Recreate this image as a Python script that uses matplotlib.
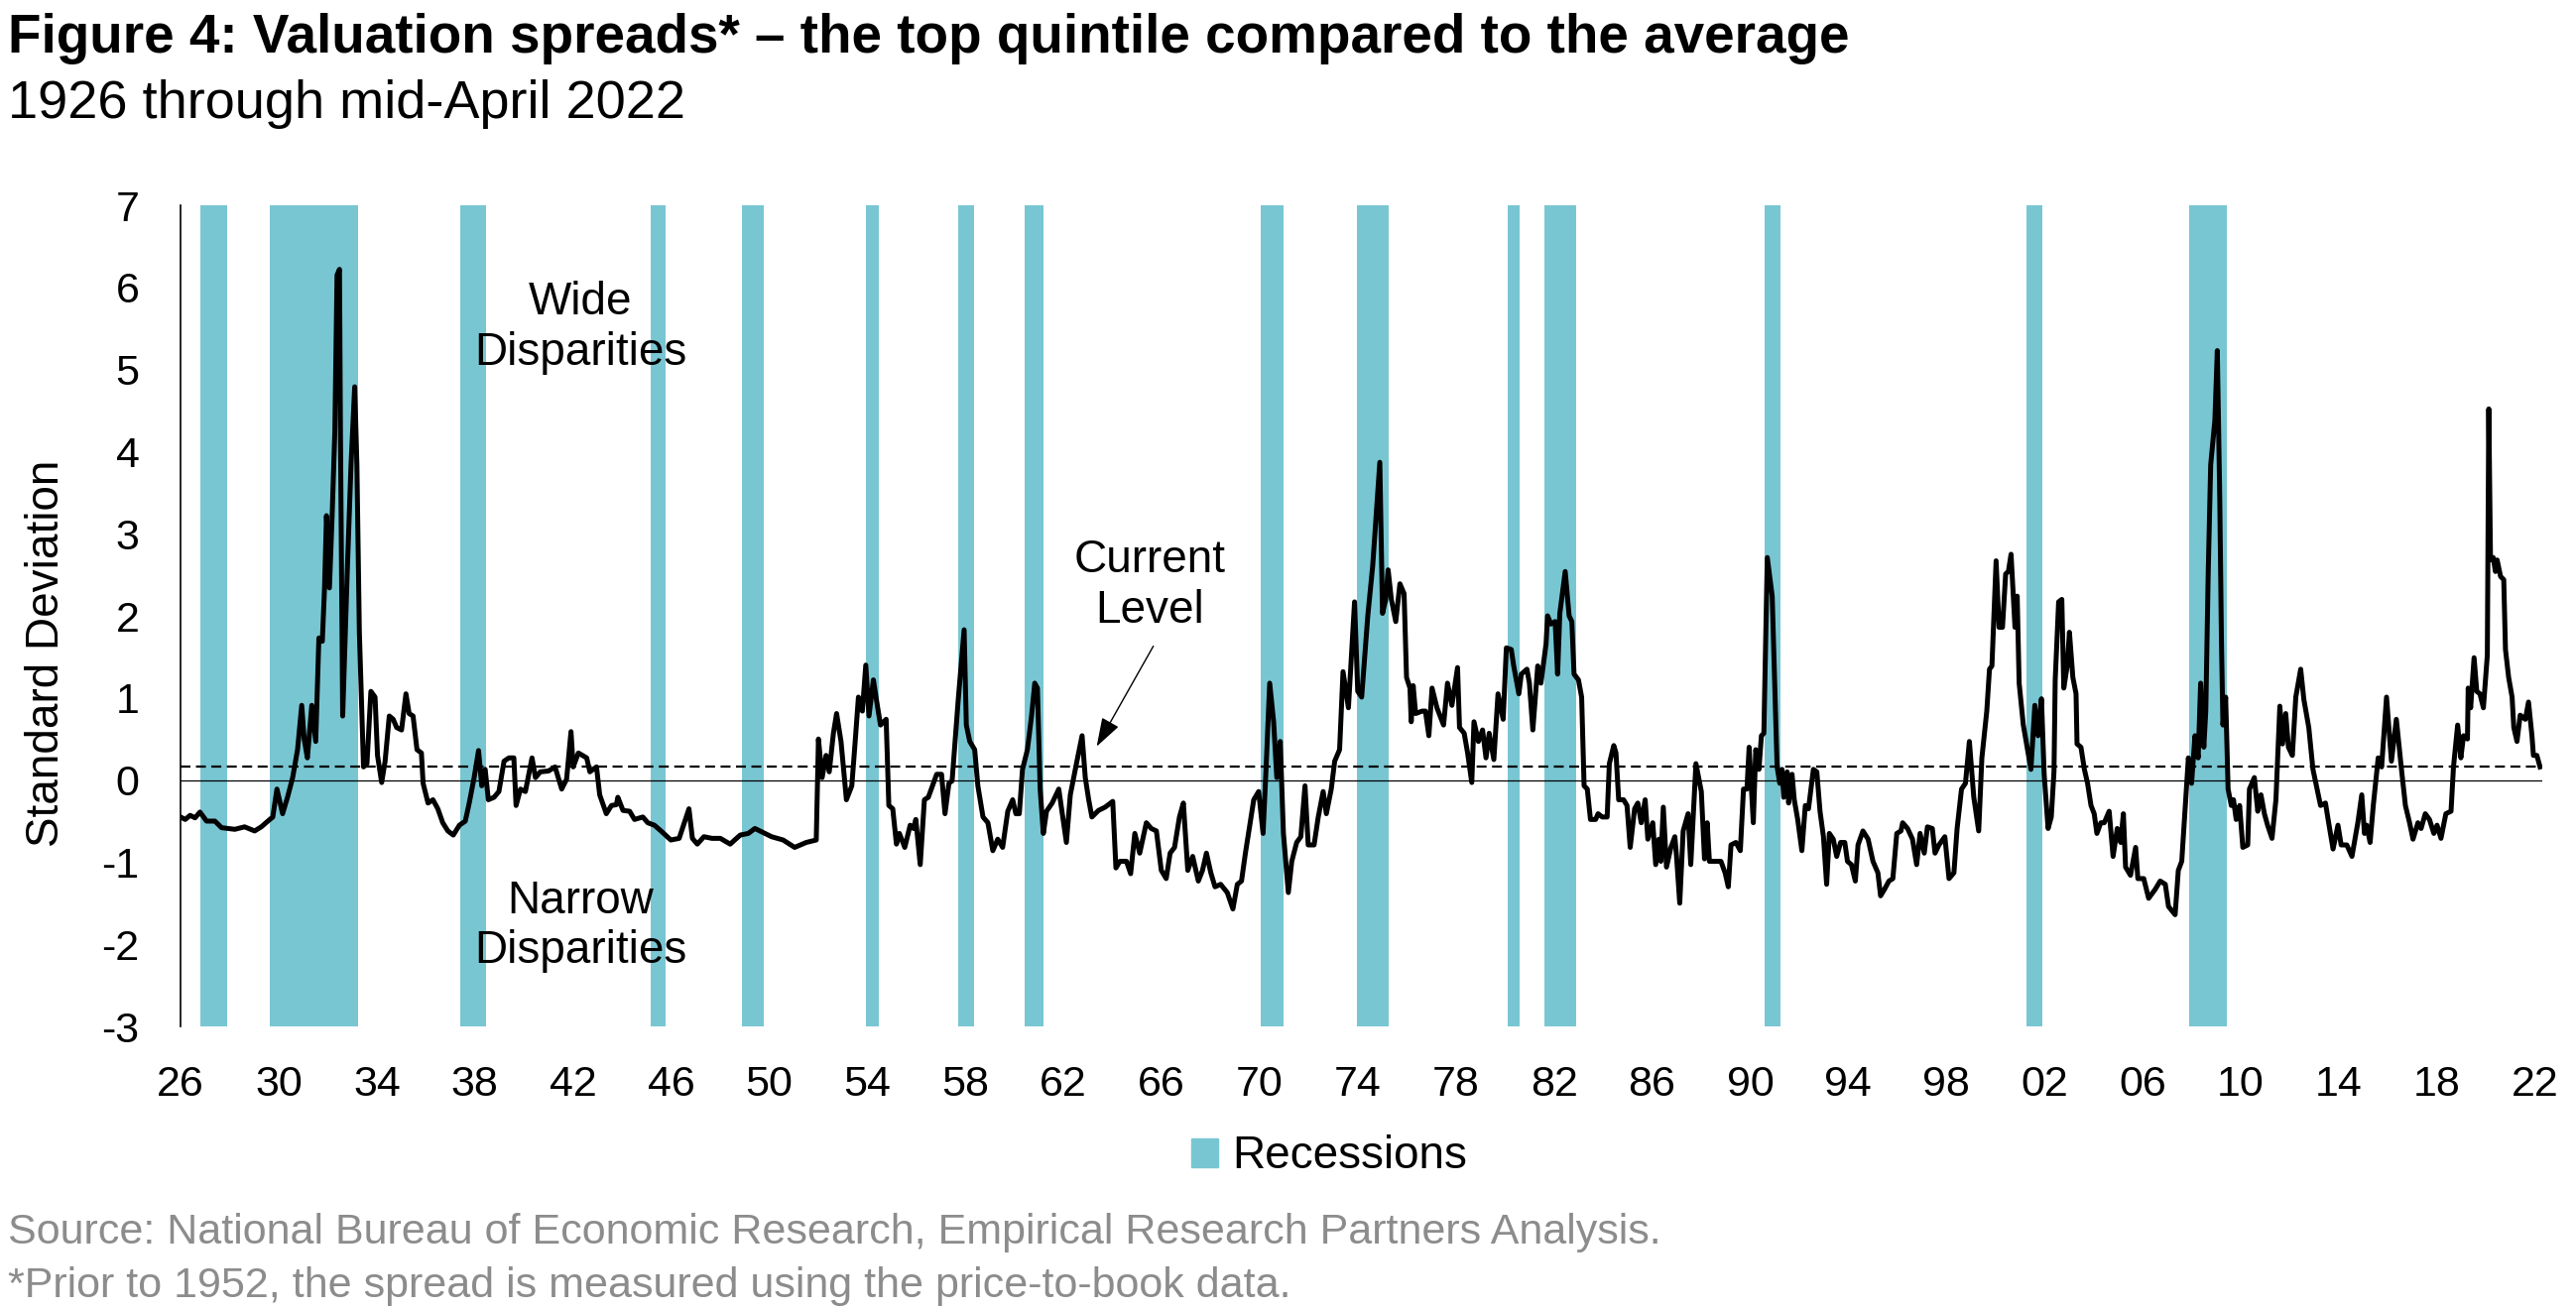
import numpy as np
import matplotlib
matplotlib.use("Agg")
import matplotlib.pyplot as plt
import matplotlib.patches as mpatches

plt.rcParams['font.family'] = ['Liberation Sans', 'DejaVu Sans']
plt.rcParams['axes.unicode_minus'] = False

# Valuation spread (standard deviations), in six pieces
yr_1926 = [1926.00, 1926.19, 1926.39, 1926.59, 1926.79, 1927.06, 1927.40, 1927.67, 1928.21, 1928.61,
           1929.02, 1929.29, 1929.56, 1929.76, 1929.93, 1930.16, 1930.36, 1930.57, 1930.77, 1930.94,
           1931.04, 1931.17, 1931.35, 1931.51, 1931.64, 1931.78, 1931.87, 1931.95, 1932.07, 1932.18,
           1932.29, 1932.38, 1932.48, 1932.52, 1932.61, 1932.79, 1932.95, 1933.10, 1933.19, 1933.29,
           1933.46, 1933.60, 1933.76, 1933.93, 1934.03, 1934.20, 1934.34, 1934.51, 1934.67, 1934.81,
           1935.01, 1935.19, 1935.32, 1935.48, 1935.64, 1935.82, 1935.89, 1936.09, 1936.29, 1936.49,
           1936.69, 1936.90, 1937.12, 1937.37, 1937.61, 1937.77, 1937.97, 1938.15, 1938.28, 1938.42,
           1938.55, 1938.78, 1938.98, 1939.19, 1939.39, 1939.59, 1939.68, 1939.86, 1940.06, 1940.33,
           1940.47, 1940.67, 1941.00, 1941.27, 1941.54, 1941.74, 1941.92, 1942.01, 1942.22]
sd_1926 = [-0.45, -0.48, -0.43, -0.46, -0.39, -0.50, -0.50, -0.58, -0.60, -0.57,
           -0.62, -0.57, -0.50, -0.45, -0.11, -0.41, -0.21, 0.03, 0.37, 0.91,
           0.50, 0.27, 0.91, 0.47, 1.73, 1.69, 2.34, 3.22, 2.34, 3.22,
           4.24, 6.15, 6.22, 4.18, 0.78, 2.48, 3.84, 4.79, 3.84, 1.80,
           0.16, 0.20, 1.08, 1.01, 0.30, -0.03, 0.23, 0.78, 0.74, 0.64,
           0.61, 1.05, 0.81, 0.78, 0.37, 0.33, -0.04, -0.28, -0.24, -0.35,
           -0.52, -0.62, -0.67, -0.55, -0.50, -0.28, 0.03, 0.36, -0.07, 0.13,
           -0.24, -0.21, -0.14, 0.23, 0.27, 0.27, -0.31, -0.11, -0.14, 0.27,
           0.03, 0.10, 0.11, 0.16, -0.11, 0.01, 0.59, 0.16, 0.33]

yr_1942 = [1942.56, 1942.69, 1942.82, 1942.96, 1943.09, 1943.36, 1943.57, 1943.77, 1943.83, 1944.04,
           1944.31, 1944.51, 1944.85, 1945.05, 1945.32, 1945.59, 1945.99, 1946.33, 1946.73, 1946.87,
           1947.07, 1947.34, 1947.67, 1948.01, 1948.41, 1948.82, 1949.15, 1949.42, 1949.76, 1950.10,
           1950.57, 1951.04, 1951.51, 1951.92, 1952.01, 1952.16, 1952.32, 1952.45, 1952.62, 1952.75,
           1952.93, 1953.15, 1953.37, 1953.50, 1953.64, 1953.80, 1953.94, 1954.07, 1954.25, 1954.41,
           1954.54, 1954.77, 1954.88, 1955.04, 1955.19, 1955.31, 1955.53, 1955.75, 1955.89, 1955.98,
           1956.16, 1956.33, 1956.49, 1956.66, 1956.83, 1957.03, 1957.17, 1957.33, 1957.46, 1957.71,
           1957.95]
sd_1942 = [0.27, 0.10, 0.13, 0.16, -0.18, -0.41, -0.31, -0.30, -0.21, -0.37,
           -0.38, -0.48, -0.45, -0.52, -0.55, -0.62, -0.73, -0.71, -0.35, -0.71,
           -0.78, -0.69, -0.71, -0.71, -0.78, -0.67, -0.65, -0.59, -0.64, -0.69,
           -0.73, -0.82, -0.76, -0.73, 0.50, 0.03, 0.30, 0.10, 0.57, 0.81,
           0.47, -0.24, -0.07, 0.44, 1.01, 0.84, 1.40, 0.78, 1.22, 0.91,
           0.67, 0.74, -0.31, -0.35, -0.78, -0.65, -0.82, -0.55, -0.59, -0.48,
           -1.03, -0.24, -0.21, -0.07, 0.07, 0.07, -0.41, -0.04, -0.01, 0.98,
           1.83]

yr_1958 = [1958.04, 1958.18, 1958.38, 1958.51, 1958.72, 1958.92, 1959.12, 1959.32, 1959.52, 1959.73,
           1959.93, 1960.06, 1960.20, 1960.33, 1960.53, 1960.70, 1960.83, 1960.94, 1961.05, 1961.18,
           1961.31, 1961.54, 1961.81, 1962.12, 1962.28, 1962.55, 1962.76, 1962.89, 1963.03, 1963.16,
           1963.43, 1963.70, 1964.01, 1964.14, 1964.30, 1964.57, 1964.74, 1964.91, 1965.11, 1965.38,
           1965.58, 1965.79, 1965.99, 1966.19, 1966.35, 1966.53, 1966.73, 1966.89, 1967.07, 1967.27,
           1967.50, 1967.67, 1967.83, 1968.01, 1968.18, 1968.41, 1968.68, 1968.91, 1969.09, 1969.26,
           1969.42, 1969.56, 1969.76, 1969.96, 1970.14, 1970.26, 1970.41, 1970.57, 1970.70, 1970.84,
           1970.97, 1971.17, 1971.31, 1971.51, 1971.68, 1971.85, 1971.98, 1972.22, 1972.39, 1972.59,
           1972.72, 1972.92, 1973.06, 1973.26, 1973.40, 1973.62, 1973.87, 1974.00, 1974.16, 1974.41,
           1974.61]
sd_1958 = [0.67, 0.47, 0.37, -0.07, -0.45, -0.52, -0.86, -0.72, -0.82, -0.38,
           -0.24, -0.41, -0.41, 0.13, 0.37, 0.78, 1.18, 1.12, -0.11, -0.65,
           -0.38, -0.28, -0.11, -0.76, -0.18, 0.23, 0.54, 0.03, -0.24, -0.45,
           -0.37, -0.33, -0.26, -1.07, -0.99, -0.99, -1.14, -0.65, -0.89, -0.52,
           -0.59, -0.62, -1.10, -1.20, -0.89, -0.82, -0.45, -0.28, -1.10, -0.93,
           -1.23, -1.10, -0.89, -1.13, -1.30, -1.27, -1.37, -1.57, -1.27, -1.23,
           -0.89, -0.62, -0.24, -0.14, -0.65, 0.13, 1.18, 0.71, 0.03, 0.47,
           -0.65, -1.37, -0.99, -0.76, -0.69, -0.07, -0.79, -0.79, -0.45, -0.14,
           -0.41, -0.11, 0.23, 0.37, 1.32, 0.88, 2.17, 1.08, 1.01, 2.00,
           2.61]

yr_1974 = [1974.90, 1975.01, 1975.14, 1975.24, 1975.37, 1975.55, 1975.72, 1975.89, 1975.99, 1976.13,
           1976.18, 1976.26, 1976.36, 1976.63, 1976.76, 1976.90, 1977.03, 1977.23, 1977.50, 1977.66,
           1977.84, 1978.07, 1978.15, 1978.34, 1978.48, 1978.65, 1978.74, 1978.92, 1979.09, 1979.23,
           1979.36, 1979.55, 1979.72, 1979.93, 1980.06, 1980.26, 1980.36, 1980.57, 1980.67, 1980.90,
           1981.00, 1981.14, 1981.34, 1981.47, 1981.68, 1981.74, 1981.88, 1982.05, 1982.15, 1982.24,
           1982.46, 1982.62, 1982.73, 1982.82, 1983.00, 1983.13, 1983.23, 1983.36, 1983.49, 1983.70,
           1983.80, 1983.97, 1984.17, 1984.26, 1984.44, 1984.53, 1984.64, 1984.84, 1984.98, 1985.11,
           1985.29, 1985.42, 1985.56, 1985.72, 1985.83, 1986.03, 1986.15, 1986.28, 1986.36, 1986.46,
           1986.59, 1986.77, 1986.93, 1987.00, 1987.13, 1987.27, 1987.47, 1987.58, 1987.79, 1988.01,
           1988.14, 1988.25, 1988.34, 1988.55, 1988.81, 1988.98, 1989.11, 1989.22, 1989.42, 1989.60,
           1989.73, 1989.87, 1989.96, 1990.13]
sd_1974 = [3.87, 2.03, 2.20, 2.56, 2.20, 1.93, 2.39, 2.27, 1.25, 1.12,
           0.71, 1.15, 0.81, 0.84, 0.84, 0.54, 1.12, 0.88, 0.67, 1.18,
           0.91, 1.37, 0.64, 0.57, 0.33, -0.03, 0.71, 0.47, 0.61, 0.27,
           0.57, 0.25, 1.05, 0.74, 1.61, 1.59, 1.39, 1.05, 1.29, 1.35,
           1.18, 0.61, 1.39, 1.18, 1.66, 2.00, 1.90, 1.93, 1.29, 2.03,
           2.54, 2.00, 1.93, 1.29, 1.22, 1.01, -0.07, -0.11, -0.48, -0.48,
           -0.41, -0.45, -0.45, 0.20, 0.42, 0.33, -0.24, -0.24, -0.31, -0.82,
           -0.35, -0.28, -0.52, -0.24, -0.72, -0.52, -1.03, -0.72, -0.99, -0.33,
           -1.06, -0.82, -0.69, -0.93, -1.50, -0.62, -0.41, -1.03, 0.20, -0.14,
           -0.96, -0.52, -0.99, -0.99, -0.99, -1.13, -1.30, -0.79, -0.76, -0.86,
           -0.11, -0.11, 0.40, -0.52]

yr_1990 = [1990.23, 1990.36, 1990.46, 1990.56, 1990.70, 1990.90, 1991.10, 1991.21, 1991.30, 1991.37,
           1991.51, 1991.57, 1991.71, 1991.80, 1991.94, 1992.11, 1992.25, 1992.38, 1992.58, 1992.72,
           1992.85, 1992.99, 1993.12, 1993.23, 1993.39, 1993.53, 1993.69, 1993.86, 1993.97, 1994.13,
           1994.29, 1994.40, 1994.60, 1994.81, 1995.01, 1995.21, 1995.32, 1995.48, 1995.66, 1995.82,
           1995.98, 1996.15, 1996.22, 1996.42, 1996.62, 1996.79, 1996.93, 1997.10, 1997.23, 1997.43,
           1997.54, 1997.70, 1997.94, 1998.11, 1998.31, 1998.44, 1998.62, 1998.78, 1998.94, 1999.12,
           1999.32, 1999.45, 1999.65, 1999.76, 1999.86, 2000.03, 2000.15, 2000.29, 2000.42, 2000.53,
           2000.64, 2000.80, 2000.89, 2000.97, 2001.14, 2001.31, 2001.45, 2001.61, 2001.74, 2001.88,
           2001.99, 2002.15, 2002.28, 2002.39, 2002.44, 2002.58, 2002.71, 2002.79, 2002.93, 2003.02,
           2003.16, 2003.29, 2003.33, 2003.49, 2003.63, 2003.76, 2003.90, 2004.03, 2004.14, 2004.30,
           2004.44, 2004.64, 2004.80, 2004.97, 2005.11, 2005.22, 2005.31, 2005.51, 2005.72, 2005.81,
           2006.05, 2006.25]
sd_1990 = [0.37, 0.13, 0.54, 0.57, 2.71, 2.24, 0.16, -0.04, 0.13, -0.21,
           0.10, -0.28, 0.07, -0.24, -0.48, -0.86, -0.31, -0.35, 0.13, 0.10,
           -0.38, -0.69, -1.27, -0.65, -0.72, -0.93, -0.76, -0.76, -0.99, -1.03,
           -1.23, -0.79, -0.62, -0.72, -0.99, -1.13, -1.41, -1.33, -1.23, -1.20,
           -0.65, -0.62, -0.52, -0.59, -0.72, -1.03, -0.65, -0.89, -0.57, -0.59,
           -0.89, -0.79, -0.69, -1.20, -1.13, -0.59, -0.11, -0.04, 0.47, -0.21,
           -0.62, 0.27, 0.84, 1.35, 1.39, 2.67, 1.86, 1.86, 2.51, 2.54,
           2.75, 1.86, 2.24, 1.18, 0.67, 0.37, 0.13, 0.91, 0.54, 0.99,
           0.07, -0.59, -0.45, 0.10, 1.22, 2.17, 2.20, 1.12, 1.39, 1.80,
           1.25, 1.05, 0.44, 0.40, 0.13, -0.04, -0.31, -0.41, -0.65, -0.52,
           -0.52, -0.38, -0.93, -0.59, -0.76, -0.41, -1.06, -1.16, -0.82, -1.20,
           -1.20, -1.44]

yr_2006 = [2006.52, 2006.72, 2006.93, 2007.06, 2007.33, 2007.46, 2007.60, 2007.73, 2007.87, 2008.00,
           2008.14, 2008.27, 2008.37, 2008.50, 2008.58, 2008.68, 2008.78, 2008.95, 2009.05, 2009.15,
           2009.22, 2009.28, 2009.39, 2009.49, 2009.62, 2009.71, 2009.82, 2009.96, 2010.09, 2010.29,
           2010.36, 2010.56, 2010.70, 2010.83, 2010.97, 2011.10, 2011.28, 2011.44, 2011.60, 2011.71,
           2011.84, 2011.95, 2012.11, 2012.25, 2012.45, 2012.58, 2012.78, 2012.95, 2013.12, 2013.26,
           2013.46, 2013.59, 2013.77, 2013.97, 2014.10, 2014.33, 2014.54, 2014.78, 2014.94, 2015.05,
           2015.14, 2015.28, 2015.41, 2015.61, 2015.75, 2015.95, 2016.15, 2016.35, 2016.56, 2016.72,
           2016.89, 2017.03, 2017.23, 2017.36, 2017.53, 2017.70, 2017.88, 2018.01, 2018.17, 2018.37,
           2018.58, 2018.68, 2018.85, 2018.98, 2019.09, 2019.25, 2019.28, 2019.38, 2019.52, 2019.63,
           2019.76, 2019.90, 2020.06, 2020.12, 2020.19, 2020.30, 2020.39, 2020.46, 2020.60, 2020.73,
           2020.80, 2020.93, 2021.07, 2021.14, 2021.27, 2021.40, 2021.61, 2021.74, 2021.88, 2021.94,
           2022.08, 2022.21]
sd_2006 = [-1.33, -1.23, -1.27, -1.54, -1.64, -1.10, -0.99, -0.38, 0.27, -0.04,
           0.54, 0.27, 1.18, 0.40, 0.84, 2.54, 3.84, 4.38, 5.23, 3.43,
           1.66, 0.67, 1.01, -0.11, -0.31, -0.24, -0.48, -0.31, -0.82, -0.79,
           -0.11, 0.03, -0.38, -0.18, -0.41, -0.55, -0.71, -0.24, 0.90, 0.44,
           0.81, 0.40, 0.30, 1.01, 1.35, 0.98, 0.64, 0.13, -0.11, -0.31,
           -0.28, -0.52, -0.84, -0.55, -0.79, -0.79, -0.93, -0.52, -0.18, -0.65,
           -0.55, -0.76, -0.31, 0.27, 0.16, 1.01, 0.23, 0.74, 0.13, -0.31,
           -0.52, -0.72, -0.52, -0.59, -0.41, -0.48, -0.65, -0.55, -0.71, -0.41,
           -0.38, 0.16, 0.67, 0.27, 0.54, 0.50, 1.12, 0.88, 1.49, 1.08,
           1.05, 0.88, 1.52, 4.52, 2.68, 2.71, 2.54, 2.68, 2.48, 2.44,
           1.59, 1.25, 1.01, 0.64, 0.47, 0.79, 0.74, 0.95, 0.54, 0.30,
           0.30, 0.16]

current_level = 0.16

# NBER recession bands as drawn on the chart (decimal years)
rec_start = [1926.81, 1929.64, 1937.39, 1945.15, 1948.88, 1953.96, 1957.72, 1960.40,
             1970.04, 1973.97, 1980.12, 1981.61, 1990.60, 2001.27, 2007.91]
rec_end = [1927.90, 1933.22, 1938.47, 1945.79, 1949.80, 1954.47, 1958.35, 1961.18,
           1970.96, 1975.28, 1980.61, 1982.92, 1991.24, 2001.91, 2009.42]

tick_years = list(range(1926, 2023, 4))
tick_labels = ['%02d' % (y % 100) for y in tick_years]

years = yr_1926 + yr_1942 + yr_1958 + yr_1974 + yr_1990 + yr_2006
spread = sd_1926 + sd_1942 + sd_1958 + sd_1974 + sd_1990 + sd_2006
assert len(years) == len(spread)

rec_color = '#79C6D3'

fig = plt.figure(figsize=(25.97, 13.21), dpi=100)
ax = fig.add_axes([0.0701, 0.2165, 0.9168, 0.6268])

# recession shading
for s, e in zip(rec_start, rec_end):
    ax.axvspan(s, e, color=rec_color, lw=0, zorder=1)

# zero line and current level
ax.axhline(0, color='black', lw=0.9, zorder=2)
ax.plot([1926, years[-1]], [current_level, current_level], color='black', lw=1.6,
        linestyle=(0, (4.5, 2.5)), zorder=2)

# the spread
ax.plot(years, spread, color='black', lw=3.6, solid_joinstyle='round', zorder=3)

ax.set_xlim(1926, 2022.3)
ax.set_ylim(-3, 7)
ax.set_yticks(range(-3, 8))
ax.set_xticks(tick_years)
ax.set_xticklabels(tick_labels)
ax.tick_params(axis='both', length=0, labelsize=31)
ax.tick_params(axis='y', pad=30)
ax.tick_params(axis='x', pad=28)
for side in ['top', 'right', 'bottom']:
    ax.spines[side].set_visible(False)
ax.spines['left'].set_linewidth(1.2)
ax.set_ylabel('Standard Deviation', fontsize=33)
ax.yaxis.set_label_coords(-0.0475, 0.454)

# annotations
ax.text(1942.3, 5.51, 'Wide\nDisparities', fontsize=33, ha='center', va='center', zorder=5)
ax.text(1942.3, -1.78, 'Narrow\nDisparities', fontsize=33, ha='center', va='center', zorder=5)
ax.text(1965.5, 2.37, 'Current\nLevel', fontsize=33, ha='center', va='center', zorder=5)
ax.annotate('', xy=(1963.3, 0.38), xytext=(1965.72, 1.66),
            arrowprops=dict(arrowstyle='-|>,head_length=0.6,head_width=0.2',
                            color='black', lw=1.0, mutation_scale=30), zorder=5)

# legend
handle = mpatches.Patch(color=rec_color)
fig.legend([handle], ['Recessions'], loc='center', bbox_to_anchor=(0.516, 0.117),
           frameon=False, fontsize=33, handlelength=0.6, handleheight=0.6,
           handletextpad=0.3)

# titles and notes
fig.text(0.003, 0.960, 'Figure 4: Valuation spreads* \u2013 the top quintile compared to the average',
         fontsize=39.5, fontweight='bold', va='baseline')
fig.text(0.003, 0.910, '1926 through mid-April 2022', fontsize=39, va='baseline')
fig.text(0.003, 0.0507, 'Source: National Bureau of Economic Research, Empirical Research Partners Analysis.',
         fontsize=31, color='#8C8C8C', va='baseline')
fig.text(0.003, 0.0098, '*Prior to 1952, the spread is measured using the price-to-book data.',
         fontsize=31, color='#8C8C8C', va='baseline')

fig.savefig('out.png', dpi=100)
